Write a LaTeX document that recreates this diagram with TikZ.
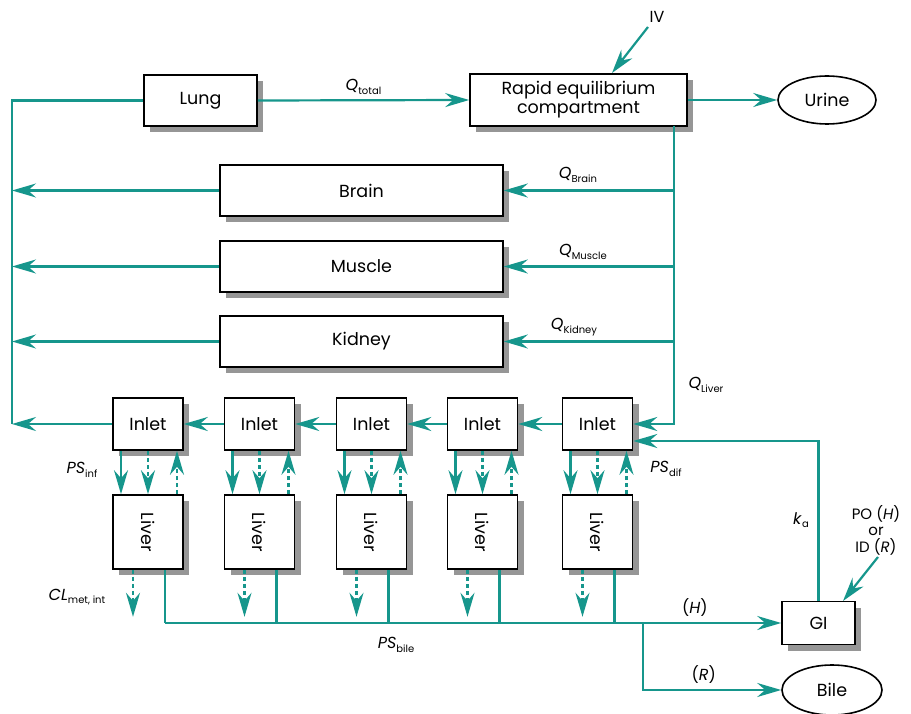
\documentclass[tikz,border=0pt]{standalone}
\usepackage{fontspec}
\setmainfont{Poppins}
\usetikzlibrary{arrows.meta,shapes.geometric}
\definecolor{tealc}{RGB}{22,150,140}
\definecolor{shadc}{RGB}{150,150,150}
\newcommand{\mysub}[1]{\raisebox{-3.5pt}{\fontsize{10}{11}\selectfont\upshape #1}}
% shadowed box: name, x, y, width, height, text
\newcommand{\shbox}[6]{%
  \fill[shad] ({#2-#4/2+6},{#3-#5/2+6}) rectangle ({#2+#4/2+6},{#3+#5/2+6});
  \node[box,minimum width=#4pt,minimum height=#5pt] (#1) at (#2,#3) {#6};}
\begin{document}
\begin{tikzpicture}[x=1pt,y=-1pt,
 box/.style={draw=black,line width=1.6pt,fill=white,align=center,
   inner sep=0pt,font=\fontsize{17.5}{19}\selectfont},
 oval/.style={ellipse,draw=black,line width=1.6pt,fill=white,inner sep=0pt,font=\fontsize{17.5}{19}\selectfont},
 flow/.style={draw=tealc,line width=2.2pt},
 arr/.style={flow,-{Stealth[length=24pt,width=14pt,inset=8pt]}},
 darr/.style={arr,dash pattern=on 4pt off 3pt},
 lab/.style={font=\fontsize{16}{18}\selectfont,inner sep=1pt},
 shad/.style={fill=shadc}
]
\useasboundingbox (0,0) rectangle (911,714);

% main boxes
\shbox{lung}{200.5}{100.5}{113}{51}{Lung}
\shbox{rapid}{578.5}{100}{217}{52}{Rapid equilibrium\\compartment}
\node[oval,minimum width=98pt,minimum height=48pt] (urine) at (827,100) {Urine};
\shbox{brain}{361.5}{190.5}{283}{51}{Brain}
\shbox{muscle}{361.5}{266.5}{283}{51}{Muscle}
\shbox{kidney}{361.5}{341.5}{283}{51}{Kidney}
\shbox{gi}{818.5}{623}{73}{43}{GI}
\node[oval,minimum width=100pt,minimum height=50pt] (bile) at (832,690) {Bile};

% inlets and livers
\foreach \i/\x in {1/148,2/259.5,3/371.5,4/482.5,5/597.5}{
  \shbox{inlet\i}{\x}{424}{70}{52}{Inlet}
  \shbox{liver\i}{\x}{532}{70}{74}{\rotatebox{-90}{Liver}}
}

% named points
\coordinate (lbus) at (12,100.5);
\coordinate (rtop) at (674,126);
\coordinate (bus0) at (165,623);
\coordinate (br) at (643,623);
\coordinate (ivs) at (648,27);
\coordinate (ive) at (612,73);
\coordinate (pos) at (878,557);
\coordinate (poe) at (843,601);

% left return bus
\draw[flow] (lung.west) -- (lbus) -- (lbus |- inlet1.west);
\foreach \n in {brain,muscle,kidney,inlet1}{
  \draw[arr] (\n.west) -- (\n.west -| lbus);
}
% top row
\draw[arr] (lung.east) -- (rapid.west) node[midway,above=4pt,lab] {\textit{Q}\mysub{total}};
\draw[arr] (rapid.east) -- (urine.west);
\node[lab] (iv) at (657,17) {IV};
\draw[arr] (ivs) -- (ive);

% right distribution bus
\draw[arr] (rtop) |- (inlet5.east);
\draw[arr] (brain.east -| rtop) -- (brain.east);
\draw[arr] (muscle.east -| rtop) -- (muscle.east);
\draw[arr] (kidney.east -| rtop) -- (kidney.east);
\node[lab] (qb) at (578,175) {\textit{Q}\mysub{Brain}};
\node[lab] (qm) at (583,252) {\textit{Q}\mysub{Muscle}};
\node[lab] (qk) at (574,327) {\textit{Q}\mysub{Kidney}};
\node[lab] (ql) at (706,385) {\textit{Q}\mysub{Liver}};

% inlet chain
\draw[arr] (inlet5.west) -- (inlet4.east);
\draw[arr] (inlet4.west) -- (inlet3.east);
\draw[arr] (inlet3.west) -- (inlet2.east);
\draw[arr] (inlet2.west) -- (inlet1.east);

% inlet <-> liver exchanges and outputs
\foreach \i in {1,...,5}{
  \draw[arr] ([xshift=-27pt]inlet\i.south) -- ([xshift=-27pt]liver\i.north);
  \draw[darr] (inlet\i.south) -- (liver\i.north);
  \draw[darr] ([xshift=29pt]liver\i.north) -- ([xshift=29pt]inlet\i.south);
  \draw[darr] ([xshift=-15pt]liver\i.south) -- ++(0,47);
  \draw[flow] ([xshift=17pt]liver\i.south) -- ([xshift=17pt]liver\i.south |- bus0);
}

% bile bus
\draw[arr] (bus0) -- (gi.west) node[pos=0.86,above=4pt,lab] {(\textit{H})};
\draw[arr] (br) |- (bile.west) node[pos=0.72,above=4pt,lab] {(\textit{R})};
\draw[arr] (gi.north) |- ([yshift=-17pt]inlet5.east);
\node[lab] (ka) at (801,520) {\textit{k}\mysub{a}};
\node[lab,align=center,font=\fontsize{15}{16.5}\selectfont] (po) at (876,530) {PO (\textit{H})\\or\\ID (\textit{R})};
\draw[arr] (pos) -- (poe);

% labels
\node[lab] (psinf) at (82,470) {\textit{PS}\mysub{inf}};
\node[lab] (psdif) at (666,469) {\textit{PS}\mysub{dif}};
\node[lab] (clm) at (77,597) {\textit{CL}\mysub{met, int}};
\node[lab] (psb) at (396,645) {\textit{PS}\mysub{bile}};
\end{tikzpicture}
\end{document}
